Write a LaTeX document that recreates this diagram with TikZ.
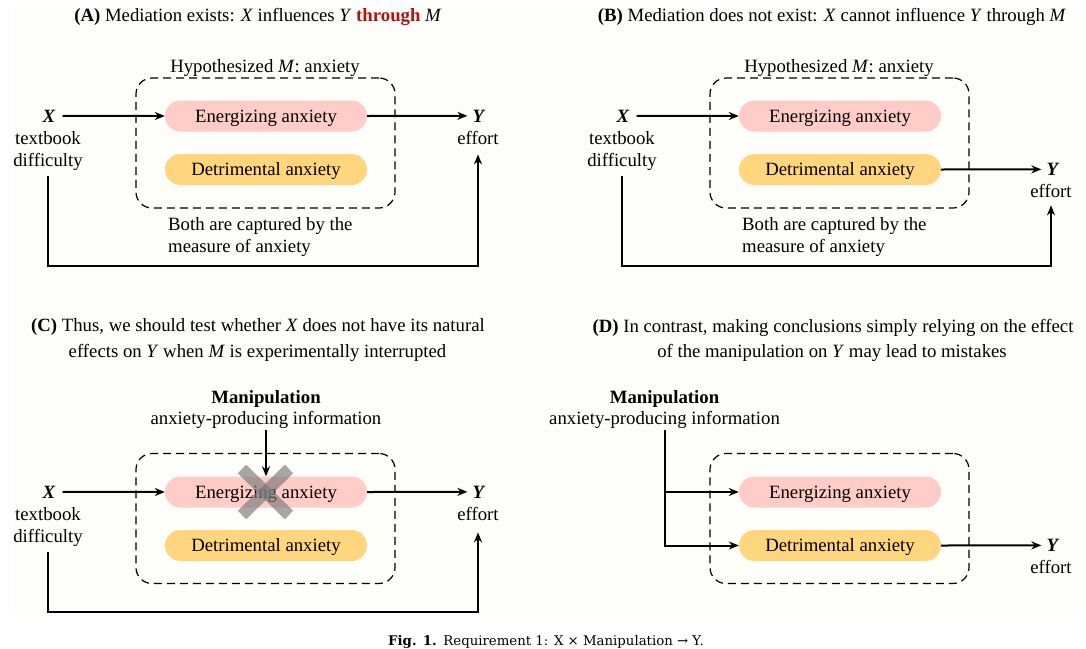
\documentclass[tikz,border=0pt]{standalone}
\usepackage{fontspec}
\setmainfont{Liberation Serif}
\newfontfamily\capfont{DejaVu Serif}
\usetikzlibrary{arrows.meta}
\definecolor{bgcream}{RGB}{253,253,249}
\definecolor{epink}{RGB}{255,204,199}
\definecolor{dyellow}{RGB}{255,213,125}
\definecolor{thrred}{RGB}{175,20,20}
\definecolor{crossgray}{RGB}{120,120,120}
\tikzset{
  lbl/.style={anchor=base, inner sep=0pt, font=\fontsize{18.75}{22}\selectfont},
  pill/.style={rounded corners=15.5pt, minimum width=202pt, minimum height=31pt, inner sep=0pt,
    text height=12.5pt, text depth=0pt, font=\fontsize{18.75}{22}\selectfont},
  mbox/.style={draw, dash pattern=on 8pt off 5pt, line width=1.2pt, rounded corners=16pt,
    minimum width=259pt, minimum height=130pt, inner sep=0pt},
  arr/.style={line width=2pt, -{Stealth[length=10pt,width=8pt]}},
  crossline/.style={line width=12pt, draw=crossgray, opacity=0.65}
}
\begin{document}
\begin{tikzpicture}[x=1pt,y=-1pt]
\useasboundingbox (0,0) rectangle (1086,648);
\fill[white] (0,0) rectangle (1086,648);
\fill[bgcream] (13,8) rectangle (1077,613);

% ---------------- Panel A ----------------
\node[lbl] (ta) at (258,21) {\textbf{(A)} Mediation exists: \textit{X} influences \textit{Y} \textcolor{thrred}{\textbf{through}} \textit{M}};
\node[lbl] (ha) at (265,72) {Hypothesized \textit{M}: anxiety};
\node[mbox] (ba) at (265.5,143) {};
\node[pill, fill=epink] (ea) at (266,116) {Energizing anxiety};
\node[pill, fill=dyellow] (da) at (266,169.5) {Detrimental anxiety};
\node[lbl] (xa) at (49,122) {\textbf{\textit{X}}};
\node[lbl] (tba) at (48,144) {textbook};
\node[lbl] (dfa) at (48,166) {difficulty};
\node[lbl] (ya) at (479,122) {\textbf{\textit{Y}}};
\node[lbl] (efa) at (478,144) {effort};
\node[lbl, anchor=base west] (bca) at (168,230) {Both are captured by the};
\node[lbl, anchor=base west] (mca) at (168,252) {measure of anxiety};
\draw[arr, shorten <=7pt] (xa.east) -- (ea.west);
\draw[arr, shorten >=5pt] (ea.east) -- (ya.west);
\coordinate (la1) at (48,266);
\coordinate (la2) at (478,266);
\draw[arr, shorten <=6pt, shorten >=10pt] (dfa.south) -- (la1) -- (la2) -- (efa.south);

% ---------------- Panel B ----------------
\node[lbl] (tb) at (832,21) {\textbf{(B)} Mediation does not exist: \textit{X} cannot influence \textit{Y} through \textit{M}};
\node[lbl] (hb) at (839,72) {Hypothesized \textit{M}: anxiety};
\node[mbox] (bb) at (839.5,143) {};
\node[pill, fill=epink] (eb) at (840,116) {Energizing anxiety};
\node[pill, fill=dyellow] (db) at (840,169.5) {Detrimental anxiety};
\node[lbl] (xb) at (623,122) {\textbf{\textit{X}}};
\node[lbl] (tbb) at (622,144) {textbook};
\node[lbl] (dfb) at (622,166) {difficulty};
\node[lbl] (yb) at (1053,175.5) {\textbf{\textit{Y}}};
\node[lbl] (efb) at (1051,197) {effort};
\node[lbl, anchor=base west] (bcb) at (742,230) {Both are captured by the};
\node[lbl, anchor=base west] (mcb) at (742,252) {measure of anxiety};
\draw[arr, shorten <=7pt] (xb.east) -- (eb.west);
\draw[arr, shorten >=5pt] (db.east) -- (yb.west);
\coordinate (lb1) at (622,266);
\coordinate (lb2) at (1051,266);
\draw[arr, shorten <=6pt, shorten >=8pt] (dfb.south) -- (lb1) -- (lb2) -- (efb.south);

% ---------------- Panel C ----------------
\node[lbl] (tc1) at (258,331.5) {\textbf{(C)} Thus, we should test whether \textit{X} does not have its natural};
\node[lbl] (tc2) at (257.5,357) {effects on \textit{Y} when \textit{M} is experimentally interrupted};
\node[lbl] (mc) at (266,403) {\textbf{Manipulation}};
\node[lbl] (ic) at (266,424) {anxiety-producing information};
\node[mbox] (bc) at (265.5,518.5) {};
\node[pill, fill=epink] (ec) at (266,492) {Energizing anxiety};
\node[pill, fill=dyellow] (dc) at (266,545.5) {Detrimental anxiety};
\node[lbl] (xc) at (49,498) {\textbf{\textit{X}}};
\node[lbl] (tbc) at (48,520) {textbook};
\node[lbl] (dfc) at (48,542) {difficulty};
\node[lbl] (yc) at (479,498) {\textbf{\textit{Y}}};
\node[lbl] (efc) at (478,520) {effort};
\draw[arr, shorten <=7pt] (xc.east) -- (ec.west);
\draw[arr, shorten >=5pt] (ec.east) -- (yc.west);
\coordinate (lc1) at (48,612);
\coordinate (lc2) at (478,612);
\draw[arr, shorten <=6pt, shorten >=12pt] (dfc.south) -- (lc1) -- (lc2) -- (efc.south);
\draw[crossline] (242,469) -- (289,515);
\draw[crossline] (289,469) -- (242,515);
\draw[arr, shorten <=2pt] (ic.south) -- (ec.north);

% ---------------- Panel D ----------------
\node[lbl] (td1) at (833,332) {\textbf{(D)} In contrast, making conclusions simply relying on the effect};
\node[lbl] (td2) at (832,357) {of the manipulation on \textit{Y} may lead to mistakes};
\node[lbl] (md) at (664.5,403) {\textbf{Manipulation}};
\node[lbl] (id) at (664.5,424) {anxiety-producing information};
\node[mbox] (bd) at (839.5,518.5) {};
\node[pill, fill=epink] (ed) at (840,492) {Energizing anxiety};
\node[pill, fill=dyellow] (dd) at (840,545.5) {Detrimental anxiety};
\node[lbl] (yd) at (1053,551.5) {\textbf{\textit{Y}}};
\node[lbl] (efd) at (1051,573) {effort};
\coordinate (cd1) at (664.5,492);
\coordinate (cd2) at (664.5,545.5);
\draw[arr, shorten <=2pt] (id.south) -- (cd2) -- (dd.west);
\draw[arr] (cd1) -- (ed.west);
\draw[arr, shorten >=5pt] (dd.east) -- (yd.west);

% ---------------- Caption ----------------
\node[anchor=base, inner sep=0pt, font=\capfont\fontsize{13.3}{16}\selectfont] (cap) at (546,645)
  {\textbf{Fig. 1.}\hspace{0.5em}Requirement 1: X × Manipulation → Y.};
\end{tikzpicture}
\end{document}
